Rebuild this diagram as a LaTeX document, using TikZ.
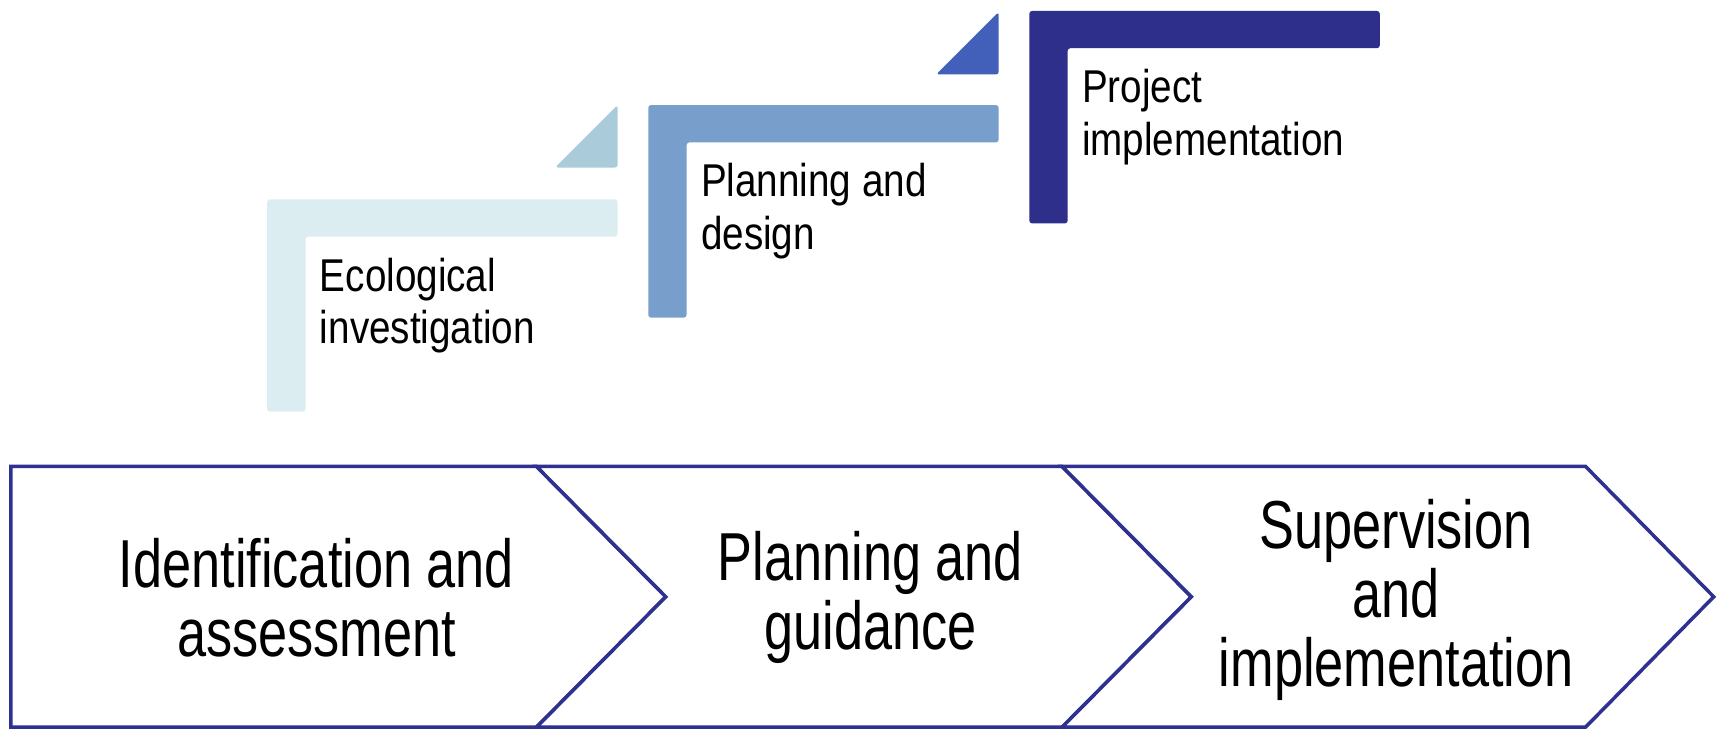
\documentclass[tikz,border=0pt]{standalone}
\usepackage{fontspec}
\newfontfamily\narrowbig[FakeStretch=0.77]{Liberation Sans}
\newfontfamily\narrowsmall[FakeStretch=0.84]{Liberation Sans}
\definecolor{lone}{HTML}{DBEDF0}
\definecolor{tone}{HTML}{A9CBDA}
\definecolor{ltwo}{HTML}{789FCB}
\definecolor{ttwo}{HTML}{425FBA}
\definecolor{lthree}{HTML}{2E2F8B}
\definecolor{edge}{HTML}{2E3190}
\begin{document}
\begin{tikzpicture}[x=1pt,y=-1pt,
  lbar/.style={rounded corners=2.5pt},
  chev/.style={draw=edge,line width=3.2pt,fill=white,line join=miter},
  toplabel/.style={inner sep=0pt,anchor=west,align=left,font=\narrowsmall\fontsize{42}{48}\selectfont},
  botlabel/.style={inner sep=0pt,align=center,font=\narrowbig\fontsize{62}{63}\selectfont}]
\useasboundingbox (0,0) rectangle (1568,672);
% L shapes and triangles
\fill[lone,lbar] (244,182) -- (564,182) -- (564,216) -- (279,216) -- (279,376) -- (244,376) -- cycle;
\fill[tone,lbar] (507,153) -- (564,96) -- (564,153) -- cycle;
\fill[ltwo,lbar] (592,96) -- (912,96) -- (912,130) -- (627,130) -- (627,290) -- (592,290) -- cycle;
\fill[ttwo,lbar] (855,68) -- (912,11) -- (912,68) -- cycle;
\fill[lthree,lbar] (940,10) -- (1260,10) -- (1260,44) -- (975,44) -- (975,204) -- (940,204) -- cycle;
\node[toplabel] (eco) at (292,279) {Ecological\\investigation};
\node[toplabel] (plan) at (640,193) {Planning and\\design};
\node[toplabel] (proj) at (988,107) {Project\\implementation};
% chevrons
\draw[chev] (10,426) -- (490,426) -- (608,545) -- (490,664) -- (10,664) -- cycle;
\draw[chev] (490,426) -- (970,426) -- (1088,545) -- (970,664) -- (490,664) -- (608,545) -- cycle;
\draw[chev] (970,426) -- (1448,426) -- (1565,545) -- (1448,664) -- (970,664) -- (1088,545) -- cycle;
\node[botlabel] (ident) at (289,546) {Identification and\\assessment};
\node[botlabel] (guid) at (795,546) {Planning and\\guidance};
\node[botlabel] (superv) at (1275,548) {Supervision\\and\\implementation};
\end{tikzpicture}
\end{document}
